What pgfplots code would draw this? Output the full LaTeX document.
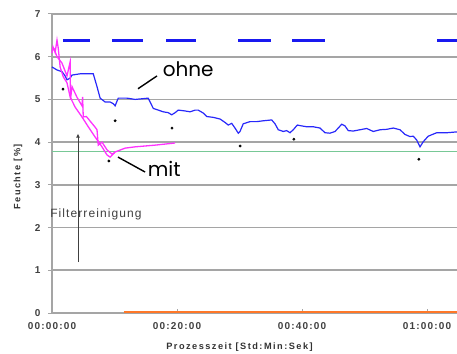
\documentclass[border=0pt]{standalone}
\usepackage{fontspec}
\setmainfont{Liberation Sans}
\newfontfamily\tickfont{Liberation Sans Bold}[LetterSpace=12]
\newfontfamily\labfont{Liberation Sans Bold}[LetterSpace=16]
\newfontfamily\notefont{Liberation Sans}[LetterSpace=9]
\newfontfamily\annfont{Poppins}
\usepackage{pgfplots}
\pgfplotsset{compat=1.18}
\usetikzlibrary{arrows.meta}
\definecolor{ohneblue}{RGB}{40,40,250}
\definecolor{dashblue}{RGB}{25,25,240}
\definecolor{mitpink}{RGB}{255,50,255}
\definecolor{refgreen}{RGB}{120,200,150}
\definecolor{reforange}{RGB}{255,120,40}
\definecolor{gridgray}{RGB}{165,165,165}
\begin{document}
\begin{tikzpicture}
\begin{axis}[
  scale only axis,
  width=405pt, height=299pt,
  xmin=0, xmax=64.8, ymin=0, ymax=7,
  clip=false,
  axis x line=bottom, axis y line=left,
  axis line style={-, gridgray, line width=1.6pt},
  ytick={0,1,2,3,4,5,6,7},
  xtick={0,20,40,60},
  xticklabels={00:00:00,00:20:00,00:40:00,01:00:00},
  ymajorgrids,
  grid style={gridgray, line width=1.6pt},
  tick style={gridgray, line width=1pt},
  ytick align=outside, xtick align=inside,
  major tick length=4pt,
  ticklabel style={font=\tickfont\fontsize{10}{11}\selectfont, text=black!75},
  /pgf/number format/assume math mode=true,
  xticklabel style={yshift=-6pt},
  yticklabel style={xshift=-4pt},
]
\coordinate (O) at (rel axis cs:0,0);
% green reference line
\addplot[refgreen, line width=1.2pt] coordinates {(0,3.79) (64.8,3.79)};
% orange line at zero
\addplot[reforange, line width=2.4pt] coordinates {(11.5,0.02) (64.8,0.02)};
% blue dashed segments
\addplot[dashblue, line width=3pt] coordinates {(1.76,6.39) (6.08,6.39)};
\addplot[dashblue, line width=3pt] coordinates {(9.6,6.39) (14.56,6.39)};
\addplot[dashblue, line width=3pt] coordinates {(18.24,6.39) (23.04,6.39)};
\addplot[dashblue, line width=3pt] coordinates {(29.76,6.39) (35.04,6.39)};
\addplot[dashblue, line width=3pt] coordinates {(38.4,6.39) (43.68,6.39)};
\addplot[dashblue, line width=3pt] coordinates {(61.6,6.39) (64.8,6.39)};
% ohne
\addplot[ohneblue, line width=1.2pt] coordinates {
(0.0,5.76) (0.8,5.69) (1.6,5.65) (2.1,5.55) (2.4,5.46) (2.9,5.50) (3.2,5.57)
(4.5,5.60) (6.6,5.60) (6.9,5.45) (7.2,5.30) (7.7,5.03) (8.5,4.94) (9.3,4.94)
(9.8,4.90) (10.1,4.85) (10.6,5.03) (12.0,5.03) (13.3,5.00) (15.4,5.03)
(16.2,4.79) (17.0,4.75) (17.8,4.71) (18.6,4.69) (19.15,4.64) (19.7,4.69)
(20.2,4.75) (21.3,4.73) (22.1,4.71) (22.9,4.75) (23.4,4.75) (24.2,4.68)
(24.75,4.60) (25.8,4.58) (26.9,4.54) (27.7,4.46) (28.2,4.40) (28.75,4.44)
(29.28,4.33) (29.8,4.21) (30.08,4.25) (30.6,4.43) (31.68,4.48) (32.75,4.48)
(33.8,4.50) (35.15,4.52) (35.68,4.43) (36.2,4.29) (37.0,4.25) (37.55,4.27)
(38.08,4.22) (38.6,4.29) (39.25,4.40) (39.95,4.38) (40.75,4.36) (41.8,4.36)
(42.88,4.33) (43.68,4.22) (44.48,4.21) (45.28,4.25) (45.8,4.33) (46.35,4.42)
(46.88,4.38) (47.4,4.27) (48.2,4.26) (49.28,4.29) (50.35,4.32) (51.4,4.25)
(52.48,4.29) (53.55,4.30) (54.6,4.33) (55.68,4.29) (56.48,4.18) (57.28,4.13)
(57.8,4.14) (58.35,4.05) (58.88,3.89) (59.4,4.01) (60.2,4.14) (61.55,4.22)
(63.15,4.22) (64.8,4.24)};
% mit (two traces)
\addplot[mitpink, line width=1.3pt] coordinates {
(0.0,6.09) (0.16,6.23) (0.5,6.10) (0.8,6.39) (1.0,6.20) (1.3,5.76) (1.8,5.53)
(2.4,5.39) (2.9,5.06) (3.7,4.82) (4.8,4.59) (5.8,4.36) (6.9,4.12) (8.0,3.89)
(8.8,3.70) (9.3,3.65) (10.1,3.77) (11.7,3.86) (13.3,3.89) (16.5,3.93) (19.7,3.98)};
\addplot[mitpink, line width=1.3pt] coordinates {
(0.3,6.20) (0.8,6.00) (1.6,5.85) (2.4,5.55) (2.9,5.88) (2.95,4.99) (3.2,5.30)
(4.0,5.05) (4.8,4.85) (4.9,5.06) (5.0,4.59) (5.5,4.60) (6.9,4.35) (7.2,4.29)
(7.4,3.93) (8.0,4.00) (8.8,3.82) (9.6,3.72) (10.0,3.75)};
% black dots
\addplot[only marks, mark=*, mark size=1.2pt, black] coordinates {
(1.76,5.24) (10.1,4.50) (19.2,4.33) (9.1,3.56) (30.1,3.91) (38.7,4.07) (58.7,3.60)};
% annotations
\draw[black, line width=1.4pt] (axis cs:13.76,5.25) -- (axis cs:16.8,5.55);
\node[anchor=base west, inner sep=0pt, font=\annfont\fontsize{20}{22}\selectfont] at (axis cs:17.7,5.53) {ohne};
\draw[black, line width=1.4pt] (axis cs:10.56,3.65) -- (axis cs:14.9,3.30);
\node[anchor=base west, inner sep=0pt, font=\annfont\fontsize{20}{22}\selectfont] at (axis cs:15.3,3.19) {mit};
\draw[black!75, line width=0.8pt, -{Latex[length=4pt,width=4pt]}] (axis cs:4.16,1.19) -- (axis cs:4.16,4.2);
\node[anchor=west, inner sep=0pt, text=black!75, font=\notefont\fontsize{12}{13}\selectfont] at (axis cs:-0.3,2.3) {Filterreinigung};
% axis labels
\node[rotate=90, inner sep=0pt, text=black!80, font=\labfont\fontsize{9.2}{10}\selectfont] at ([xshift=-34pt]rel axis cs:0,0.455) {Feuchte [\%]};
\node[inner sep=0pt, text=black!80, font=\labfont\fontsize{9.2}{10}\selectfont] at ([yshift=-34pt]axis cs:30,0) {Prozesszeit [Std:Min:Sek]};
\end{axis}
\pgfresetboundingbox
\path[use as bounding box] (O) ++(-52pt,-40pt) rectangle ++(457pt,353pt);
\end{tikzpicture}
\end{document}
